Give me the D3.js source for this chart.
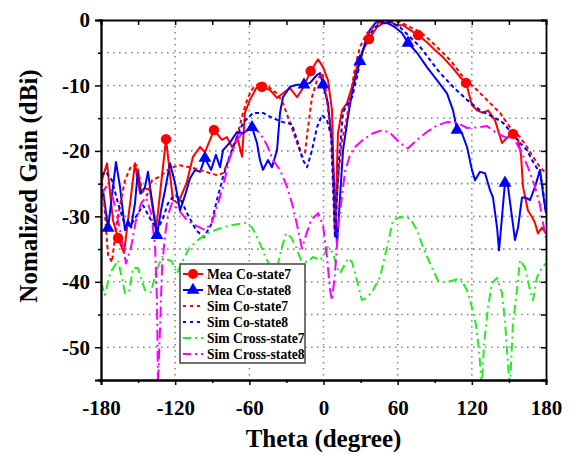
<!DOCTYPE html>
<html>
<head>
<meta charset="utf-8">
<script src="https://cdn.jsdelivr.net/npm/d3@7"></script>
<style>
    body { margin: 0; background: #fff; }
    svg { display: block; }
    text { font-family: "Liberation Serif", "Times New Roman", serif; font-weight: bold; fill: #000; }
</style>
</head>
<body>
<div id="chart"></div>
<script>
// tick labels
const xTicks = [-180, -120, -60, 0, 60, 120, 180]
const xMinor = [-150, -90, -30, 30, 90, 150]
const yTicks = [0, -10, -20, -30, -40, -50]
const yMinor = [-5, -15, -25, -35, -45, -55]
const xGrid = [-120, -60, 0, 60, 120]
const yGrid = [-5, -10, -15, -20, -25, -30, -35, -40, -45, -50]

const legendLabels = ['Mea Co-state7', 'Mea Co-state8', 'Sim Co-state7', 'Sim Co-state8', 'Sim Cross-state7', 'Sim Cross-state8']

// [theta (deg), gain (dBi)]
const meaCo7 = [[-180,-24.9],[-175.1,-21.9],[-170.3,-30.6],[-166.2,-33.3],[-161.4,-35.6],[-152.5,-21.9],[-148.4,-26.5],[-144.4,-25.7],[-140.4,-26.0],[-135.5,-32.1],[-127.4,-18.2],[-121.8,-27.5],[-117.7,-28.0],[-110.7,-24.9],[-105.6,-20.9],[-99.9,-19.4],[-95.9,-20.2],[-91.8,-18.3],[-88.6,-16.8],[-82.1,-18.3],[-78.1,-17.9],[-74.0,-19.4],[-69.2,-18.3],[-65.9,-20.9],[-63.5,-14.1],[-59.5,-12.2],[-53.8,-10.2],[-49.8,-10.2],[-43.3,-10.7],[-37.6,-11.9],[-32.8,-11.2],[-27.1,-10.4],[-21.4,-11.8],[-16.6,-10.4],[-10.4,-7.8],[-4.4,-6.0],[-0.4,-7.2],[3.6,-9.2],[6.9,-13.8],[9.3,-32.9],[11.7,-17.3],[15.0,-13.8],[19.0,-12.7],[23.1,-10.2],[27.1,-7.2],[32.0,-4.6],[36.8,-2.9],[43.3,-1.1],[48.1,-0.5],[53.8,-0.3],[59.5,-0.8],[64.3,-0.8],[70.0,-1.5],[76.5,-2.3],[83.7,-3.4],[90.2,-4.6],[96.7,-5.7],[104.0,-7.2],[110.4,-8.7],[115.3,-9.6],[120.1,-13.0],[124.2,-13.8],[129.0,-14.2],[133.1,-13.8],[138.7,-15.3],[144.4,-18.8],[148.5,-18.0],[153.3,-17.4],[157.4,-18.3],[159.8,-20.6],[161.4,-25.5],[165.4,-29.1],[168.7,-30.1],[171.1,-31.0],[173.5,-32.6],[176.8,-31.7],[180,-32.6]]
const meaCo7Marks = [-166.2, -127.4, -88.6, -49.8, -10.4, 36.8, 76.5, 115.3, 153.3]

const meaCo8 = [[-180,-27.5],[-178.4,-26.0],[-174.3,-31.8],[-171.9,-28.0],[-167.9,-21.7],[-164.6,-25.5],[-160.6,-32.1],[-158.2,-30.6],[-155.7,-31.7],[-152.5,-28.0],[-150.1,-22.9],[-147.6,-26.5],[-144.4,-25.5],[-142.0,-23.2],[-139.6,-26.5],[-134.7,-32.9],[-131.5,-29.1],[-128.2,-26.0],[-124.2,-21.9],[-120.1,-24.9],[-116.1,-29.1],[-112.0,-26.8],[-108.0,-24.2],[-104.0,-22.9],[-99.9,-23.2],[-95.9,-21.1],[-91.0,-22.9],[-87.0,-20.6],[-83.7,-22.5],[-81.3,-19.9],[-75.6,-18.7],[-70.0,-17.1],[-65.1,-17.3],[-57.8,-16.4],[-53.8,-18.8],[-51.4,-21.4],[-48.9,-22.9],[-44.9,-21.4],[-41.7,-22.5],[-37.6,-19.9],[-35.2,-14.2],[-32.8,-11.8],[-27.1,-10.2],[-21.4,-9.9],[-15.8,-9.9],[-10.9,-9.6],[-5.3,-8.4],[-2.8,-8.1],[-0.4,-9.9],[3.6,-12.7],[6.9,-18.8],[10.9,-34.4],[15.8,-19.9],[19.8,-14.8],[23.9,-10.2],[29.5,-6.3],[33.6,-3.5],[37.6,-1.5],[41.7,-0.5],[44.9,0],[48.1,-0.5],[52.2,-0.5],[57.8,-1.1],[63.5,-2.0],[68.4,-3.5],[75.6,-5.0],[83.7,-7.2],[91.8,-9.2],[99.9,-11.2],[104.8,-13.8],[108.0,-16.8],[112.0,-17.3],[116.1,-19.4],[120.1,-22.9],[122.6,-24.5],[126.6,-23.2],[130.7,-23.4],[134.7,-26.0],[137.1,-27.1],[140.4,-31.7],[142.0,-35.2],[144.4,-30.1],[146.8,-24.9],[149.3,-25.5],[152.5,-30.1],[154.9,-33.6],[157.4,-31.7],[160.6,-27.1],[163.0,-27.1],[167.1,-27.5],[171.1,-25.5],[175.2,-22.9],[177.6,-26.5],[180,-29.5]]
const meaCo8Marks = [-174.3, -134.7, -95.9, -57.8, -15.8, -0.4, 29.5, 68.4, 108.0, 146.8]

const simCo7 = [[-180,-23.7],[-177.6,-27.5],[-174.3,-35.9],[-171.1,-37.0],[-167.9,-31.8],[-164.6,-28.3],[-160.6,-24.5],[-155.7,-22.3],[-150.9,-22.2],[-146.8,-26.0],[-142.8,-26.8],[-138.7,-24.5],[-132.3,-23.9],[-124.2,-22.6],[-116.1,-22.2],[-108.0,-22.5],[-99.9,-22.9],[-91.8,-23.4],[-86.2,-23.7],[-81.3,-23.4],[-75.6,-20.9],[-70.0,-17.9],[-65.1,-14.2],[-61.1,-11.8],[-57.0,-10.4],[-51.4,-9.6],[-45.7,-9.9],[-41.7,-10.7],[-37.6,-11.2],[-32.8,-12.7],[-27.1,-15.7],[-21.4,-18.8],[-17.4,-20.9],[-15.0,-20.3],[-12.5,-16.4],[-9.3,-11.8],[-5.3,-9.2],[-1.2,-8.1],[1.2,-9.6],[3.6,-13.8],[6.9,-18.8],[9.3,-32.1],[11.7,-24.5],[15.0,-18.3],[17.4,-16.4],[21.4,-12.2],[25.5,-7.2],[29.5,-4.1],[35.2,-2.0],[40.0,-1.1],[48.1,0],[55.4,-0.2],[61.9,-0.3],[70.0,-1.1],[78.1,-1.8],[86.2,-3.1],[94.3,-4.6],[102.4,-6.1],[112.9,-8.7],[124.2,-10.7],[134.7,-12.7],[142.8,-14.2],[150.9,-16.4],[159.0,-17.9],[164.6,-19.4],[169.5,-20.9],[175.2,-22.5],[180,-23.4]]

const simCo8 = [[-180,-23.7],[-176.0,-23.2],[-171.1,-24.5],[-166.2,-28.0],[-161.4,-30.9],[-156.5,-31.5],[-150.9,-29.8],[-146.0,-28.3],[-140.4,-30.3],[-134.7,-32.1],[-129.8,-30.3],[-125.8,-28.0],[-120.9,-26.8],[-116.1,-27.2],[-109.6,-29.8],[-103.1,-32.1],[-96.7,-33.2],[-91.0,-31.3],[-86.2,-27.5],[-81.3,-24.0],[-75.6,-20.6],[-70.0,-17.9],[-65.1,-15.7],[-57.0,-14.2],[-48.9,-14.2],[-40.9,-15.0],[-32.8,-15.6],[-25.5,-15.9],[-20.6,-18.8],[-16.6,-21.4],[-13.3,-22.5],[-9.3,-19.9],[-5.3,-16.4],[-1.2,-14.5],[2.8,-15.3],[6.1,-17.6],[9.3,-33.3],[12.5,-21.4],[15.8,-14.1],[19.8,-12.8],[23.1,-11.8],[27.1,-8.7],[31.1,-5.0],[36.0,-2.6],[41.7,-1.1],[48.1,-0.3],[53.8,-0.3],[61.9,-1.1],[70.0,-2.6],[78.1,-4.1],[86.2,-6.1],[94.3,-8.1],[104.8,-10.2],[116.1,-12.2],[126.6,-13.8],[137.1,-14.8],[145.2,-15.7],[152.5,-17.3],[159.0,-18.8],[164.6,-19.9],[168.7,-21.4],[173.5,-22.9],[176.8,-24.9],[180,-29.5]]

const simCross7 = [[-180,-40.1],[-176.8,-42.0],[-172.7,-38.7],[-166.2,-36.7],[-160.6,-41.7],[-157.3,-41.6],[-154.1,-37.9],[-150.1,-37.9],[-144.4,-41.3],[-139.5,-41.6],[-135.5,-38.5],[-130.6,-36.2],[-122.6,-36.9],[-118.5,-38.7],[-113.7,-36.7],[-108.8,-34.9],[-101.5,-33.6],[-93.4,-32.6],[-86.2,-32.0],[-78.1,-31.5],[-70.0,-31.2],[-63.5,-31.0],[-57.8,-31.7],[-53.8,-33.2],[-49.8,-34.9],[-45.7,-36.7],[-41.7,-38.2],[-37.6,-37.9],[-33.6,-34.7],[-30.3,-32.6],[-26.3,-33.2],[-22.2,-34.7],[-18.2,-36.7],[-13.3,-37.0],[-8.5,-36.2],[-2.8,-36.7],[0.4,-35.9],[3.6,-34.7],[7.7,-35.6],[10.9,-37.8],[13.4,-38.7],[19.8,-36.4],[23.1,-37.0],[27.1,-39.8],[31.1,-42.8],[35.2,-42.4],[40.0,-41.3],[45.7,-39.3],[51.4,-34.7],[56.2,-30.6],[61.9,-30.1],[70.0,-30.3],[75.6,-32.1],[80.5,-34.7],[86.2,-37.2],[92.6,-39.8],[98.3,-40.1],[104.8,-39.8],[110.4,-39.4],[116.1,-41.3],[120.1,-43.9],[123.4,-46.6],[125.8,-50.5],[128.2,-56],[129.8,-49.7],[133.1,-43.9],[136.3,-40.2],[140.4,-39.4],[144.4,-41.7],[146.8,-45.9],[149.3,-52.8],[150.9,-56],[153.3,-46.3],[156.5,-41.3],[159.0,-36.7],[163.0,-37.8],[167.1,-41.3],[169.5,-42.8],[172.7,-39.3],[176.8,-37.8],[180,-37.2]]

const simCross8 = [[-180,-26.8],[-176.0,-25.5],[-171.9,-26.0],[-167.9,-29.1],[-163.8,-32.9],[-159.8,-37.2],[-155.7,-34.7],[-151.7,-30.6],[-147.6,-28.0],[-143.6,-27.1],[-139.5,-29.5],[-136.3,-34.4],[-134.7,-42.8],[-133.9,-56],[-132.3,-47.4],[-130.6,-37.8],[-128.2,-32.9],[-125.8,-29.8],[-122.6,-28.0],[-116.9,-29.1],[-110.4,-30.6],[-102.3,-31.5],[-95.9,-32.1],[-90.2,-30.9],[-85.3,-28.0],[-81.3,-25.5],[-75.6,-20.9],[-70.0,-18.3],[-65.1,-17.1],[-57.8,-16.4],[-51.4,-17.3],[-45.7,-19.1],[-40.9,-21.4],[-35.2,-22.9],[-29.5,-25.5],[-25.5,-28.0],[-21.4,-31.3],[-17.4,-34.9],[-14.2,-32.9],[-10.1,-30.6],[-4.4,-29.5],[-0.4,-31.3],[2.8,-36.2],[5.3,-41.3],[6.9,-42.8],[9.3,-38.7],[11.7,-32.1],[15.0,-26.8],[17.4,-23.2],[21.4,-20.6],[25.5,-19.4],[32.0,-18.3],[40.0,-17.3],[48.1,-16.8],[54.6,-17.4],[61.9,-18.8],[68.4,-19.6],[75.6,-18.3],[83.7,-17.1],[91.8,-16.1],[99.9,-15.6],[108.0,-15.7],[116.1,-16.5],[124.2,-16.4],[132.3,-16.2],[138.7,-17.1],[146.8,-17.9],[153.3,-17.9],[160.6,-20.3],[165.4,-22.5],[171.1,-25.5],[175.2,-28.3],[177.6,-31.0],[180,-33.3]]

class GainChart {

    constructor(container) {
        this.container = container
        this.width = 576
        this.height = 455
        this.svg = d3.select(container).append('svg')
            .attr('width', this.width)
            .attr('height', this.height)
    }

    draw() {
        this.x = d3.scaleLinear().domain([-180, 180]).range([101, 546])
        this.y = d3.scaleLinear().domain([-55, 0]).range([380, 20])

        this.svg.append('defs').append('clipPath')
            .attr('id', 'plotClip')
            .append('rect')
            .attr('x', 101).attr('y', 20)
            .attr('width', 445).attr('height', 360)

        this.drawGrid()
        this.series = [
            { data: meaCo7, color: '#ff0000', dash: null, marks: meaCo7Marks, marker: 'circle' },
            { data: meaCo8, color: '#0000ff', dash: null, marks: meaCo8Marks, marker: 'triangle' },
            { data: simCo7, color: '#ff0000', dash: '4,3' },
            { data: simCo8, color: '#0000ff', dash: '4,3' },
            { data: simCross7, color: '#22ee22', dash: '9,4,2,4' },
            { data: simCross8, color: '#ff00ff', dash: '11,4,2,4' }
        ]
        this.drawLines()
        this.drawAxes()
        this.drawLegend()
    }

    drawGrid() {
        const g = this.svg.append('g').attr('class', 'grid')
        g.selectAll('.hg').data(yGrid).enter().append('line')
            .attr('x1', 101).attr('x2', 546)
            .attr('y1', d => this.y(d)).attr('y2', d => this.y(d))
        g.selectAll('.vg').data(xGrid).enter().append('line')
            .attr('y1', 20).attr('y2', 380)
            .attr('x1', d => this.x(d)).attr('x2', d => this.x(d))
        g.selectAll('line')
            .attr('stroke', '#8a8a8a')
            .attr('stroke-width', 1.6)
            .attr('stroke-dasharray', '1.6,4.4')
    }

    drawLines() {
        const line = d3.line().x(d => this.x(d[0])).y(d => this.y(d[1]))
        const plot = this.svg.append('g').attr('clip-path', 'url(#plotClip)')

        this.series.forEach(s => {
            plot.append('path')
                .datum(s.data)
                .attr('fill', 'none')
                .attr('stroke', s.color)
                .attr('stroke-width', 2)
                .attr('stroke-linejoin', 'round')
                .attr('stroke-dasharray', s.dash)
                .attr('d', line)
        })

        this.series.filter(s => s.marks).forEach(s => {
            const pts = s.data.filter(d => s.marks.includes(d[0]))
            const type = s.marker == 'circle' ? d3.symbolCircle : d3.symbolTriangle
            plot.selectAll(null).data(pts).enter().append('path')
                .attr('d', d3.symbol().type(type).size(s.marker == 'circle' ? 85 : 72))
                .attr('transform', d => `translate(${this.x(d[0])},${this.y(d[1])})`)
                .attr('fill', s.color)
        })
    }

    drawAxes() {
        const svg = this.svg
        const fmt = d => d

        svg.append('g').attr('transform', 'translate(0,380)')
            .call(d3.axisBottom(this.x).tickValues(xTicks).tickSize(5).tickPadding(10).tickFormat(fmt))
            .call(g => g.selectAll('text').attr('font-size', 21).attr('dy', '0.95em'))
        svg.append('g').attr('transform', 'translate(0,380)')
            .call(d3.axisBottom(this.x).tickValues(xMinor).tickSize(3).tickFormat(''))
        svg.append('g').attr('transform', 'translate(0,20)')
            .call(d3.axisTop(this.x).tickValues(xTicks.concat(xMinor)).tickSize(-5).tickFormat(''))

        svg.append('g').attr('transform', 'translate(101,0)')
            .call(d3.axisLeft(this.y).tickValues(yTicks).tickSize(6).tickPadding(5).tickFormat(fmt))
            .call(g => g.selectAll('text').attr('font-size', 21))
        svg.append('g').attr('transform', 'translate(101,0)')
            .call(d3.axisLeft(this.y).tickValues(yMinor).tickSize(3).tickFormat(''))
        svg.append('g').attr('transform', 'translate(546,0)')
            .call(d3.axisRight(this.y).tickValues(yTicks.concat(yMinor)).tickSize(-5).tickFormat(''))

        svg.selectAll('.domain').attr('stroke', '#000').attr('stroke-width', 1.8)
        svg.selectAll('.tick line').attr('stroke', '#000').attr('stroke-width', 1.5)
        svg.selectAll('.tick text').attr('fill', '#000')
            .style('font-family', '"Liberation Serif", serif').style('font-weight', 'bold')

        svg.append('text')
            .text('Theta (degree)')
            .attr('x', 323.5)
            .attr('y', 447)
            .attr('text-anchor', 'middle')
            .attr('font-size', 25)

        svg.append('text')
            .text('Nomalized Gain (dBi)')
            .attr('transform', 'translate(37,186) rotate(-90)')
            .attr('text-anchor', 'middle')
            .attr('font-size', 25)
    }

    drawLegend() {
        const lg = this.svg.append('g').attr('transform', 'translate(180,264)')
        lg.append('rect')
            .attr('width', 125).attr('height', 99)
            .attr('fill', '#fff')
            .attr('stroke', '#444')
            .attr('stroke-width', 1.5)

        legendLabels.forEach((label, i) => {
            const s = this.series[i]
            const yy = 10 + i * 16
            lg.append('line')
                .attr('x1', 3).attr('x2', 23)
                .attr('y1', yy).attr('y2', yy)
                .attr('stroke', s.color)
                .attr('stroke-width', 2)
                .attr('stroke-dasharray', s.dash ? (i < 4 ? '3,4' : '8,4,2,4') : null)
            if (s.marker) {
                lg.append('path')
                    .attr('d', d3.symbol().type(s.marker == 'circle' ? d3.symbolCircle : d3.symbolTriangle).size(s.marker == 'circle' ? 80 : 70))
                    .attr('transform', `translate(13,${yy})`)
                    .attr('fill', s.color)
            }
            lg.append('text')
                .text(label)
                .attr('x', 27)
                .attr('y', yy)
                .attr('dy', '0.35em')
                .attr('font-size', 13.6)
        })
    }
}

const chart = new GainChart(document.getElementById('chart'))
chart.draw()
</script>
</body>
</html>
